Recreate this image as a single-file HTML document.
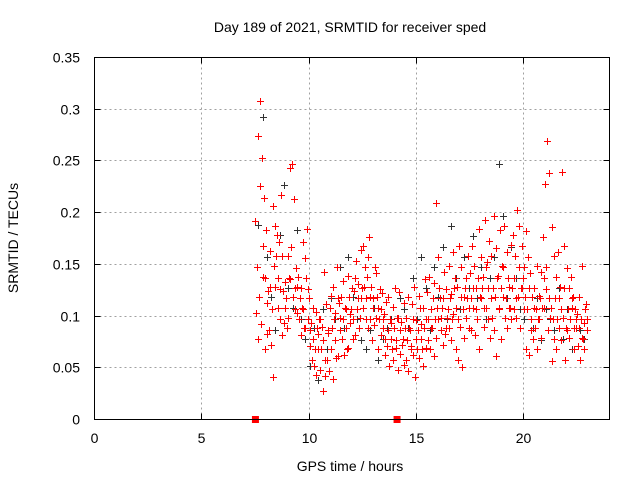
<!DOCTYPE html>
<html><head><meta charset="utf-8"><style>
html,body{margin:0;padding:0;background:#fff;}
svg{display:block;font-family:"Liberation Sans",sans-serif;}
</style></head><body>
<svg id="chart" width="640" height="480" viewBox="0 0 640 480" xmlns="http://www.w3.org/2000/svg">
<rect x="0" y="0" width="640" height="480" fill="#fff"/>
<text x="350" y="32" font-size="14" text-anchor="middle">Day 189 of 2021, SRMTID for receiver sped</text>
<text x="350" y="471" font-size="14" text-anchor="middle">GPS time / hours</text>
<text transform="translate(18,238) rotate(-90)" font-size="14" text-anchor="middle">SRMTID / TECUs</text>
<g id="grid"></g>
<g id="ticks"></g>
<g id="marks"></g>
<rect x="94.5" y="57.5" width="515" height="362" fill="none" stroke="#000" stroke-width="1"/>
</svg>
<script>
const xTicks = [0,5,10,15,20];
const yTicks = [0,0.05,0.1,0.15,0.2,0.25,0.3,0.35];
const yTickLabels = ["0","0.05","0.1","0.15","0.2","0.25","0.3","0.35"];
const startTime = 7.5;
const step = 0.1;
const redA = [0.192,0.274,0.308,0.253,0.214,0.183,0.124,0.163,0.206,0.187,
0.178,0.172,0.217,0.124,0.133,0.158,0.243,0.247,0.213,0.146,
0.138,0.127,0.172,0.156,0.184,0.117,0.093,0.108,0.104,0.083,
0.097,0.089,0.143,0.112,0.084,0.119,0.128,0.103,0.147,0.113,
0.118,0.134,0.107,0.139,0.102,0.127,0.124,0.153,0.131,0.164,
0.168,0.147,0.138,0.176,0.128,0.117,0.142,0.108,0.126,0.122,
0.102,0.114,0.118,0.093,0.109,0.127,0.098,0.123,0.094,0.113,
0.098,0.118,0.087,0.112,0.128,0.096,0.119,0.092,0.108,0.136,
0.123,0.138,0.107,0.132,0.209,0.157,0.117,0.108,0.143,0.126,
0.148,0.121,0.162,0.137,0.128,0.168,0.147,0.118,0.137,0.158,
0.142,0.168,0.148,0.127,0.184,0.157,0.138,0.193,0.152,0.173,
0.158,0.197,0.166,0.139,0.183,0.148,0.187,0.162,0.128,0.169,
0.178,0.158,0.203,0.187,0.168,0.147,0.182,0.157,0.142,0.118,
0.127,0.148,0.119,0.143,0.176,0.228,0.269,0.238,0.186,0.158,
0.138,0.162,0.128,0.239,0.168,0.146,0.127,0.138,0.118,0.107,
0.102,0.118,0.148,0.093,0.112];
const redB = [0.103,0.078,0.226,0.138,0.068,0.113,0.087,0.072,0.041,0.128,
0.108,0.097,0.082,0.093,0.117,0.098,0.136,0.118,0.127,0.103,
0.097,0.082,0.107,0.088,0.126,0.071,0.058,0.052,0.043,0.068,
0.048,0.028,0.042,0.058,0.047,0.068,0.039,0.077,0.061,0.087,
0.078,0.062,0.088,0.069,0.093,0.097,0.082,0.107,0.088,0.117,
0.108,0.097,0.088,0.118,0.077,0.091,0.098,0.068,0.082,0.097,
0.062,0.071,0.052,0.078,0.058,0.069,0.048,0.063,0.072,0.053,
0.058,0.047,0.071,0.062,0.041,0.068,0.059,0.078,0.052,0.069,
0.077,0.068,0.088,0.061,0.079,0.097,0.087,0.072,0.083,0.098,
0.088,0.077,0.102,0.068,0.058,0.089,0.051,0.079,0.098,0.088,
0.087,0.108,0.082,0.097,0.068,0.117,0.089,0.108,0.097,0.079,
0.098,0.087,0.061,0.107,0.078,0.118,0.098,0.088,0.108,0.097,
0.107,0.098,0.118,0.088,0.127,0.107,0.068,0.062,0.087,0.078,
0.088,0.068,0.097,0.079,0.108,0.126,0.087,0.098,0.057,0.078,
0.068,0.088,0.077,0.098,0.058,0.087,0.079,0.108,0.068,0.088,
0.071,0.058,0.079,0.068,0.087];
const redC = [0.147,0.118,0.092,0.168,0.137,0.083,0.128,0.107,0.148,0.158,
0.137,0.126,0.158,0.108,0.088,0.137,0.167,0.118,0.107,0.128,
0.117,0.108,0.088,0.137,0.097,0.087,0.078,0.068,0.088,0.097,
0.068,0.077,0.058,0.087,0.108,0.088,0.097,0.059,0.117,0.098,
0.097,0.108,0.068,0.118,0.107,0.078,0.137,0.117,0.098,0.127,
0.128,0.117,0.157,0.097,0.108,0.147,0.118,0.097,0.107,0.088,
0.078,0.087,0.097,0.068,0.088,0.077,0.098,0.087,0.078,0.088,
0.077,0.088,0.068,0.097,0.078,0.087,0.108,0.068,0.088,0.097,
0.097,0.088,0.117,0.097,0.108,0.127,0.098,0.117,0.088,0.107,
0.117,0.097,0.127,0.108,0.097,0.118,0.107,0.127,0.117,0.108,
0.117,0.127,0.107,0.137,0.118,0.127,0.108,0.147,0.127,0.117,
0.127,0.118,0.137,0.108,0.127,0.147,0.117,0.137,0.108,0.127,
0.137,0.117,0.147,0.127,0.137,0.118,0.107,0.127,0.097,0.108,
0.107,0.097,0.117,0.108,0.137,0.147,0.117,0.108,0.097,0.117,
0.097,0.117,0.107,0.127,0.088,0.107,0.097,0.117,0.088,0.097,
0.088,0.097,0.078,0.107,0.097];
const blackStart = 7.6;
const blackStep = 0.2;
const black = [0.188,0.292,0.157,0.118,0.087,0.178,0.227,0.127,0.108,0.183,0.097,0.078,0.052,0.088,0.038,0.107,0.068,0.117,0.097,0.147,0.088,0.157,0.118,0.097,0.077,0.068,0.087,0.108,0.058,0.078,0.088,0.097,0.077,0.117,0.107,0.088,0.137,0.097,0.157,0.127,0.087,0.147,0.118,0.167,0.097,0.187,0.137,0.107,0.157,0.127,0.177,0.117,0.147,0.097,0.137,0.157,0.247,0.197,0.117,0.167,0.137,0.107,0.097,0.127,0.088,0.117,0.077,0.107,0.097,0.087,0.127,0.078,0.107,0.068,0.097,0.087,0.078];
const gapMarkers = [7.5, 14.1];

const NS = "http://www.w3.org/2000/svg";
const X0=94.5, X1=609.5, Y0=419.5, Y1=57.5;
function xs(t){return X0+(t/24)*(X1-X0);}
function ys(v){return Y0-(v/0.35)*(Y0-Y1);}
function mk(tag,attrs,parent){const e=document.createElementNS(NS,tag);for(const k in attrs)e.setAttribute(k,attrs[k]);parent.appendChild(e);return e;}
const grid=document.getElementById('grid'), ticks=document.getElementById('ticks'), marks=document.getElementById('marks');

xTicks.forEach(function(t){
  const x=Math.round(xs(t)-0.5)+0.5;
  if(t>0){const g=mk('line',{x1:x,y1:Y0,x2:x,y2:Y1,stroke:'#a0a0a0','stroke-dasharray':'2,3'},grid);
  
  }
  mk('line',{x1:x,y1:Y0,x2:x,y2:Y0-6,stroke:'#000'},ticks);
  mk('line',{x1:x,y1:Y1,x2:x,y2:Y1+6,stroke:'#000'},ticks);
  const l=mk('text',{x:x,y:443,'font-size':14,'text-anchor':'middle'},ticks);
  l.textContent=String(t);
  
  
});
yTicks.forEach(function(v,i){
  const y=Math.round(ys(v)-0.5)+0.5;
  if(v>0&&v<0.35){const g=mk('line',{x1:X0,y1:y,x2:X1,y2:y,stroke:'#a0a0a0','stroke-dasharray':'2,3'},grid);
  
  }
  mk('line',{x1:X0,y1:y,x2:X0+6,y2:y,stroke:'#000'},ticks);
  mk('line',{x1:X1,y1:y,x2:X1-6,y2:y,stroke:'#000'},ticks);
  const l=mk('text',{x:80,y:y+5,'font-size':14,'text-anchor':'end'},ticks);
  l.textContent=yTickLabels[i];
  
  
});

function plus(t,v,color){
  const x=Math.round(xs(t))+0.5, y=Math.round(ys(v))+0.5;
  const p=mk('path',{d:'M'+(x-3.5)+' '+y+'H'+(x+3.5)+'M'+x+' '+(y-3.5)+'V'+(y+3.5),stroke:color,'stroke-width':1,fill:'none'},marks);
  
  
}
black.forEach(function(v,i){plus(blackStart+i*blackStep+0.03,v,'#333');});
[redA,redB,redC].forEach(function(arr,k){
  arr.forEach(function(v,i){plus(startTime+i*step+k*0.03,v,'#ff0000');});
});
gapMarkers.forEach(function(t){
  const x=xs(t);
  const r=mk('rect',{x:x-3.5,y:Y0-3.5,width:7,height:7,fill:'#ff0000'},marks);
  
  
});
</script>
</body></html>
